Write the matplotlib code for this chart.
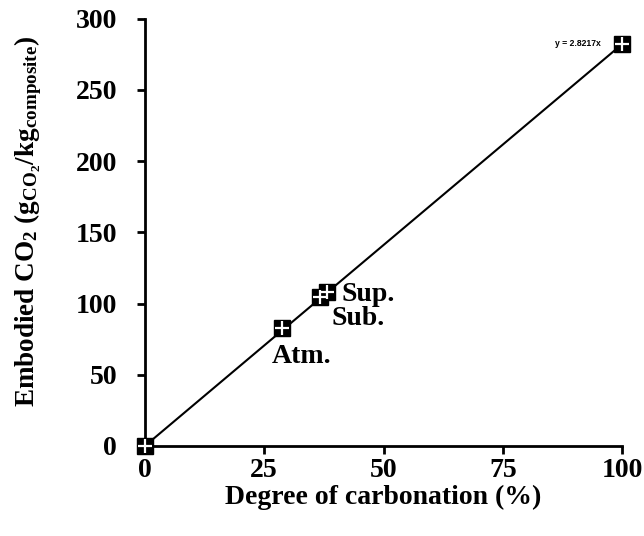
import matplotlib
matplotlib.use("Agg")
import matplotlib.pyplot as plt
import numpy as np

# data
carbonation = [0, 28.7, 36.7, 38.2, 100]
co2 = [0, 82.9, 104.7, 108.2, 282.2]
slope = 2.8217

# annotation labels (x, y of text baseline/left)
ann_text = ["Sup.", "Sub.", "Atm."]
ann_x = [41.3, 39.2, 26.6]
ann_y = [101.9, 85.0, 58.3]

plt.rcParams['font.family'] = 'Liberation Serif'
plt.rcParams['font.weight'] = 'bold'
plt.rcParams['mathtext.default'] = 'regular'

fig = plt.figure(figsize=(6.44, 5.36), dpi=100)
ax = fig.add_axes([0.225, 0.168, 0.741, 0.797])

# trend line
xl = np.array([0, 100])
ax.plot(xl, slope * xl, color='black', lw=1.5, zorder=2)

# markers: black square with white cross
ax.plot(carbonation, co2, 's', color='black', ms=12, clip_on=False, zorder=5)
ax.plot(carbonation, co2, '+', color='white', ms=10, mew=1.6, clip_on=False, zorder=6)

for t, x, y in zip(ann_text, ann_x, ann_y):
    ax.text(x, y, t, fontsize=20, fontweight='bold', ha='left', va='baseline')

ax.text(95.5, 282.5, "y = 2.8217x", fontsize=6.2, fontweight='bold', family='Liberation Sans',
        ha='right', va='center')

ax.set_xlim(0, 100)
ax.set_ylim(0, 300)
ax.set_xticks([0, 25, 50, 75, 100])
ax.set_yticks([0, 50, 100, 150, 200, 250, 300])
ax.spines['top'].set_visible(False)
ax.spines['right'].set_visible(False)
for s in ['left', 'bottom']:
    ax.spines[s].set_linewidth(2)
ax.tick_params(direction='out', length=6, width=2, labelsize=20)
ax.tick_params(axis='y', pad=14)
ax.tick_params(axis='x', pad=3)
for lab in ax.get_xticklabels() + ax.get_yticklabels():
    lab.set_fontweight('bold')

ax.set_xlabel("Degree of carbonation (%)", fontsize=20, fontweight='bold', labelpad=1)
ax.set_ylabel(r"Embodied CO$_2$ (g$_{CO_2}$/kg$_{composite}$)", fontsize=19.5,
              fontweight='bold')
ax.yaxis.set_label_coords(-0.212, 0.525)

fig.savefig("out.png", dpi=100)
